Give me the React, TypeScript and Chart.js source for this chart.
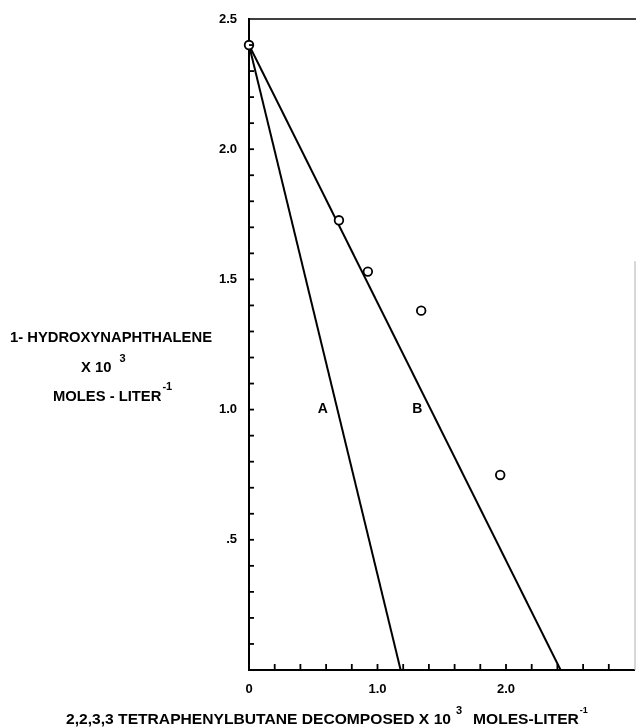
import React, { useEffect, useRef } from "react";
import { Chart, registerables } from "chart.js";

Chart.register(...registerables);

// ---- data ----
const pointsX = [0, 0.7, 0.925, 1.34, 1.955];
const pointsY = [2.4, 1.727, 1.53, 1.38, 0.749];
const lineAX = [0, 1.18];
const lineAY = [2.4, 0];
const lineBX = [0, 2.425];
const lineBY = [2.4, 0];
const xTickValues = [0, 1, 2];
const xTickLabels = ["0", "1.0", "2.0"];
const yTickValues = [0.5, 1, 1.5, 2, 2.5];
const yTickLabels = [".5", "1.0", "1.5", "2.0", "2.5"];
const curveLabels = ["A", "B"];
const curveLabelX = [0.575, 1.31];
const curveLabelY = [1.0, 1.0];
const yTitleLines = ["1- HYDROXYNAPHTHALENE", "X 10", "MOLES - LITER"];
const yTitleSups = ["", "3", "-1"];
const xTitleMain = "2,2,3,3 TETRAPHENYLBUTANE DECOMPOSED X 10";
const xTitleSup1 = "3";
const xTitleTail = "MOLES-LITER";
const xTitleSup2 = "-1";

const FONT = '"Liberation Sans", Arial, sans-serif';

function scaledText(ctx: CanvasRenderingContext2D, text: string, x: number, y: number, sx: number, font: string, align: "left" | "center" = "left") {
  ctx.save();
  ctx.font = font;
  const w = ctx.measureText(text).width * sx;
  const x0 = align === "center" ? x - w / 2 : x;
  ctx.translate(x0, y);
  ctx.scale(sx, 1);
  ctx.textAlign = "left";
  ctx.textBaseline = "middle";
  ctx.fillText(text, 0, 0);
  ctx.restore();
  return x0 + w;
}

function plainText(ctx: CanvasRenderingContext2D, text: string, x: number, y: number, font: string, align: CanvasTextAlign = "left") {
  ctx.save();
  ctx.font = font;
  ctx.textAlign = align;
  ctx.textBaseline = "middle";
  ctx.fillText(text, x, y);
  ctx.restore();
}

const decorPlugin = {
  id: "decor",
  afterDraw(chart: any) {
    const ctx: CanvasRenderingContext2D = chart.ctx;
    const { left, right, top, bottom } = chart.chartArea;
    const xs = chart.scales.x;
    const ys = chart.scales.y;
    ctx.save();
    ctx.fillStyle = "#000";
    ctx.strokeStyle = "#000";
    // top border
    ctx.lineWidth = 1.6;
    ctx.beginPath();
    ctx.moveTo(left - 1, top);
    ctx.lineTo(chart.width, top);
    ctx.stroke();
    // faint right border fragment
    ctx.strokeStyle = "#b0b0b0";
    ctx.lineWidth = 1;
    ctx.beginPath();
    ctx.moveTo(right + 0.5, ys.getPixelForValue(1.57));
    ctx.lineTo(right + 0.5, bottom);
    ctx.stroke();
    ctx.strokeStyle = "#000";
    // inward ticks
    ctx.lineWidth = 1.8;
    xs.ticks.forEach((t: any) => {
      const v = t.value;
      if (v <= 0.001) return;
      const px = xs.getPixelForValue(v);
      if (px > right - 2) return;
      ctx.beginPath();
      ctx.moveTo(px, bottom);
      ctx.lineTo(px, bottom - 6);
      ctx.stroke();
    });
    ys.ticks.forEach((t: any) => {
      const v = t.value;
      if (v <= 0.001 || v >= 2.49) return;
      const py = ys.getPixelForValue(v);
      ctx.beginPath();
      ctx.moveTo(left, py);
      ctx.lineTo(left + 5, py);
      ctx.stroke();
    });
    // curve labels
    curveLabels.forEach((lab, i) => {
      plainText(ctx, lab, xs.getPixelForValue(curveLabelX[i]), ys.getPixelForValue(curveLabelY[i]), `bold 14px ${FONT}`, "center");
    });
    // y title
    const big = `bold 15px ${FONT}`;
    const sup = `bold 11px ${FONT}`;
    ctx.font = big;
    const sx = 202 / ctx.measureText(yTitleLines[0]).width;
    scaledText(ctx, yTitleLines[0], 10, 338, sx, big);
    const e2 = scaledText(ctx, yTitleLines[1], 81, 368, sx, big);
    plainText(ctx, yTitleSups[1], e2 + 8, 359, sup);
    const e3 = scaledText(ctx, yTitleLines[2], 53, 397, sx, big);
    plainText(ctx, yTitleSups[2], e3 + 1, 387, sup);
    // x title
    ctx.font = big;
    const sx2 = 385 / ctx.measureText(xTitleMain).width;
    const e4 = scaledText(ctx, xTitleMain, 66, 720, sx2, big);
    plainText(ctx, xTitleSup1, e4 + 5, 711, sup);
    const e5 = scaledText(ctx, xTitleTail, 473, 720, sx2, big);
    plainText(ctx, xTitleSup2, e5 + 1, 711, `bold 9px ${FONT}`);
    ctx.restore();
  },
};

export default function App() {
  const ref = useRef<HTMLCanvasElement | null>(null);
  useEffect(() => {
    if (!ref.current) return;
    const chart = new Chart(ref.current, {
      type: "scatter",
      data: {
        datasets: [
          {
            type: "line",
            data: lineAX.map((x, i) => ({ x, y: lineAY[i] })),
            borderColor: "#000",
            borderWidth: 2,
            pointRadius: 0,
            fill: false,
            order: 2,
          },
          {
            type: "line",
            data: lineBX.map((x, i) => ({ x, y: lineBY[i] })),
            borderColor: "#000",
            borderWidth: 2,
            pointRadius: 0,
            fill: false,
            order: 2,
          },
          {
            type: "scatter",
            data: pointsX.map((x, i) => ({ x, y: pointsY[i] })),
            pointStyle: "circle",
            pointRadius: 4.3,
            pointBorderWidth: 1.8,
            pointBackgroundColor: "#fff",
            pointBorderColor: "#000",
            clip: false,
            order: 1,
          },
        ] as any,
      },
      options: {
        animation: false,
        responsive: false,
        maintainAspectRatio: false,
        layout: { autoPadding: false, padding: { top: 19, right: 1.5, left: 0, bottom: 0 } },
        plugins: { legend: { display: false }, tooltip: { enabled: false }, title: { display: false } },
        scales: {
          x: {
            type: "linear",
            min: 0,
            max: 3.0,
            grid: { display: false, drawTicks: false, tickLength: 0 },
            border: { display: true, color: "#000", width: 2 },
            afterFit: (s: any) => {
              s.height = 57;
              s.paddingRight = 0;
              s.paddingLeft = 0;
            },
            ticks: {
              stepSize: 0.2,
              autoSkip: false,
              maxRotation: 0,
              padding: 12,
              color: "#000",
              font: { family: FONT, size: 13, weight: "bold" },
              callback: (v: any) => {
                const idx = xTickValues.findIndex((t) => Math.abs(t - Number(v)) < 1e-6);
                return idx >= 0 ? xTickLabels[idx] : "";
              },
            },
          },
          y: {
            type: "linear",
            min: 0,
            max: 2.5,
            grid: { display: false, drawTicks: false, tickLength: 0 },
            border: { display: true, color: "#000", width: 2 },
            afterFit: (s: any) => {
              s.width = 249;
              s.paddingTop = 0;
              s.paddingBottom = 0;
            },
            ticks: {
              stepSize: 0.1,
              autoSkip: false,
              padding: 12,
              color: "#000",
              font: { family: FONT, size: 13, weight: "bold" },
              callback: (v: any) => {
                const idx = yTickValues.findIndex((t) => Math.abs(t - Number(v)) < 1e-6);
                return idx >= 0 ? yTickLabels[idx] : "";
              },
            },
          },
        },
      },
      plugins: [decorPlugin],
    } as any);
    return () => chart.destroy();
  }, []);
  return (
    <div style={{ position: "absolute", left: 0, top: 0, width: 636, height: 727, background: "#fff" }}>
      <canvas ref={ref} width={636} height={727} style={{ display: "block", width: 636, height: 727 }} />
    </div>
  );
}
